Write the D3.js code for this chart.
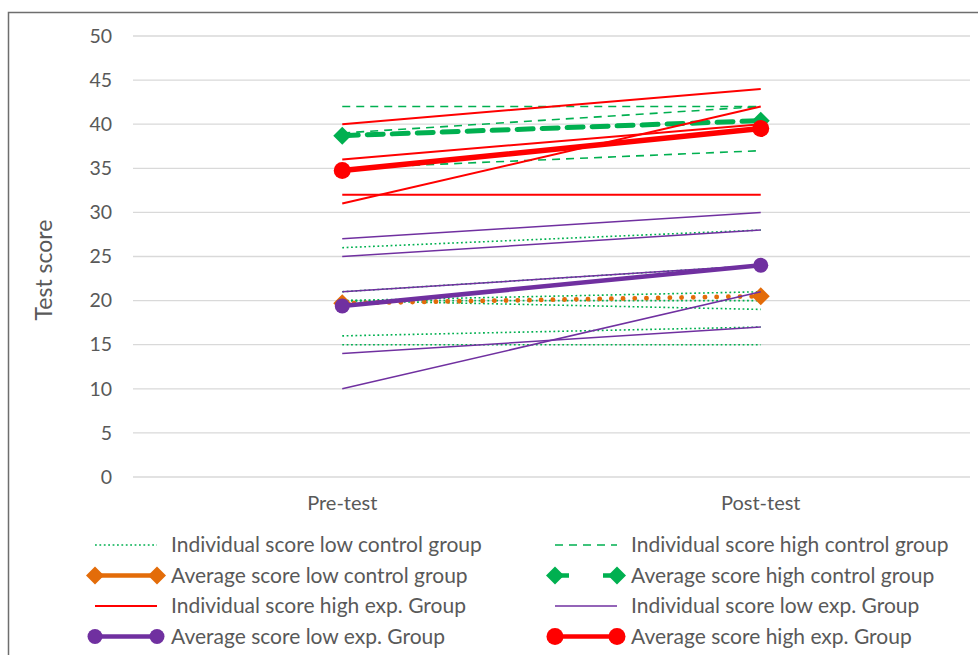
<!DOCTYPE html>
<html><head><meta charset="utf-8">
<script src="https://cdn.jsdelivr.net/npm/d3@7"></script>
<style>body{margin:0;background:#fff}svg{display:block}</style>
</head><body><svg id="c" width="978" height="655"></svg>
<script>
const categories = ["Pre-test", "Post-test"];
const yTicks = [0, 5, 10, 15, 20, 25, 30, 35, 40, 45, 50];
const lowControlInd = [[26, 28], [21, 24], [20, 21], [20, 20], [20, 19], [16, 17], [15, 15]];
const highControlInd = [[42, 42], [39, 42], [35, 37]];
const lowControlAvg = [19.7, 20.5];
const highControlAvg = [38.7, 40.4];
const highExpInd = [[40, 44], [36, 40], [32, 32], [31, 42]];
const lowExpInd = [[27, 30], [25, 28], [21, 24], [14, 17], [10, 21]];
const lowExpAvg = [19.4, 24];
const highExpAvg = [34.75, 39.5];
const legendLabels = [
  "Individual score low control group", "Individual score high control group",
  "Average score low control group", "Average score high control group",
  "Individual score high exp. Group", "Individual score low exp. Group",
  "Average score low exp. Group", "Average score high exp. Group"
];

const FONT = "Lato, 'Open Sans', sans-serif";
const svg = d3.select("#c");
svg.append("rect").attr("x", 8.5).attr("y", 12.5).attr("width", 980).attr("height", 660)
  .attr("fill", "#fff").attr("stroke", "#6e6e6e").attr("stroke-width", 1.5);

const x = d3.scaleBand().domain(categories).range([133, 970]);
const y = d3.scaleLinear().domain([0, 50]).range([477, 36]);
const cx = c => x(c) + x.bandwidth() / 2;

// gridlines
svg.append("g").selectAll("line").data(yTicks).join("line")
  .attr("x1", 133).attr("x2", 970).attr("y1", d => y(d)).attr("y2", d => y(d))
  .attr("stroke", "#d9d9d9").attr("stroke-width", 1.3);

// y axis labels
const yAxis = d3.axisLeft(y).tickValues(yTicks).tickSize(0).tickPadding(0);
const ya = svg.append("g").attr("transform", "translate(112,0)").call(yAxis);
ya.select(".domain").remove();
ya.selectAll("text").attr("font-family", FONT).attr("font-size", 19.5).attr("fill", "#595959");

// x axis labels
const xAxis = d3.axisBottom(x).tickSize(0).tickPadding(0);
const xa = svg.append("g").attr("transform", "translate(0,496)").call(xAxis);
xa.select(".domain").remove();
xa.selectAll("text").attr("font-family", FONT).attr("font-size", 20).attr("fill", "#595959");

svg.append("text").attr("transform", "translate(52,270) rotate(-90)")
  .attr("text-anchor", "middle").attr("font-family", FONT).attr("font-size", 23)
  .attr("fill", "#595959").text("Test score");

const line = d3.line().x((d, i) => cx(categories[i])).y(d => y(d));

const styles = {
  lci: {stroke: "#00B050", w: 1.6, dash: "1.8 2.6", cap: "butt"},
  hci: {stroke: "#00B050", w: 1.6, dash: "8 6", cap: "butt"},
  lca: {stroke: "#E36C09", w: 4.8, dash: "0.1 11.6", cap: "round", marker: "diamond", ms: 9},
  hca: {stroke: "#00B050", w: 5, dash: "16 9", cap: "round", marker: "diamond", ms: 9},
  hei: {stroke: "#FF0000", w: 2, dash: null, cap: "butt"},
  lei: {stroke: "#7030A0", w: 1.5, dash: null, cap: "butt"},
  lea: {stroke: "#7030A0", w: 4.5, dash: null, cap: "round", marker: "circle", ms: 7.5},
  hea: {stroke: "#FF0000", w: 5.5, dash: null, cap: "round", marker: "circle", ms: 8.5}
};

function drawSeries(data, st) {
  const g = svg.append("g");
  g.selectAll("path").data(data).join("path")
    .attr("d", line).attr("fill", "none").attr("stroke", st.stroke)
    .attr("stroke-width", st.w).attr("stroke-dasharray", st.dash)
    .attr("stroke-linecap", st.cap);
  if (st.marker) {
    const pts = data[0].map((v, i) => [cx(categories[i]), y(v)]);
    drawMarkers(g, pts, st);
  }
}
function drawMarkers(g, pts, st) {
  if (st.marker === "circle") {
    g.selectAll("circle").data(pts).join("circle").attr("cx", d => d[0]).attr("cy", d => d[1])
      .attr("r", st.ms).attr("fill", st.stroke);
  } else {
    const s = st.ms;
    g.selectAll("path.m").data(pts).join("path").attr("class", "m")
      .attr("d", d => `M${d[0]},${d[1]-s}L${d[0]+s},${d[1]}L${d[0]},${d[1]+s}L${d[0]-s},${d[1]}Z`)
      .attr("fill", st.stroke);
  }
}

drawSeries(lowControlInd, styles.lci);
drawSeries(highControlInd, styles.hci);
drawSeries([lowControlAvg], styles.lca);
drawSeries([highControlAvg], styles.hca);
drawSeries(highExpInd, styles.hei);
drawSeries(lowExpInd, styles.lei);
drawSeries([lowExpAvg], styles.lea);
drawSeries([highExpAvg], styles.hea);

// legend
const legendStyles = [styles.lci, styles.hci, styles.lca, styles.hca, styles.hei, styles.lei, styles.lea, styles.hea];
const lg = svg.append("g");
legendStyles.forEach((st, i) => {
  const col = i % 2, row = Math.floor(i / 2);
  const x0 = col === 0 ? 95 : 555, x1 = x0 + 62, yy = 545 + row * 30.5;
  const g = lg.append("g");
  let dash = st.dash;
  if (st === styles.hca) dash = "14 34 14";
  if (st === styles.lca) dash = null;
  g.append("line").attr("x1", x0).attr("x2", x1).attr("y1", yy).attr("y2", yy)
    .attr("stroke", st.stroke).attr("stroke-width", st.marker ? Math.min(st.w, 4.5) : st.w)
    .attr("stroke-dasharray", dash).attr("stroke-linecap", "butt");
  if (st.marker) drawMarkers(g, [[x0, yy], [x1, yy]], st);
  g.append("text").attr("x", 171 + col * 460).attr("y", yy).attr("dy", "0.35em")
    .attr("font-family", FONT).attr("font-size", 21).attr("fill", "#595959").text(legendLabels[i]);
});
</script></body></html>
